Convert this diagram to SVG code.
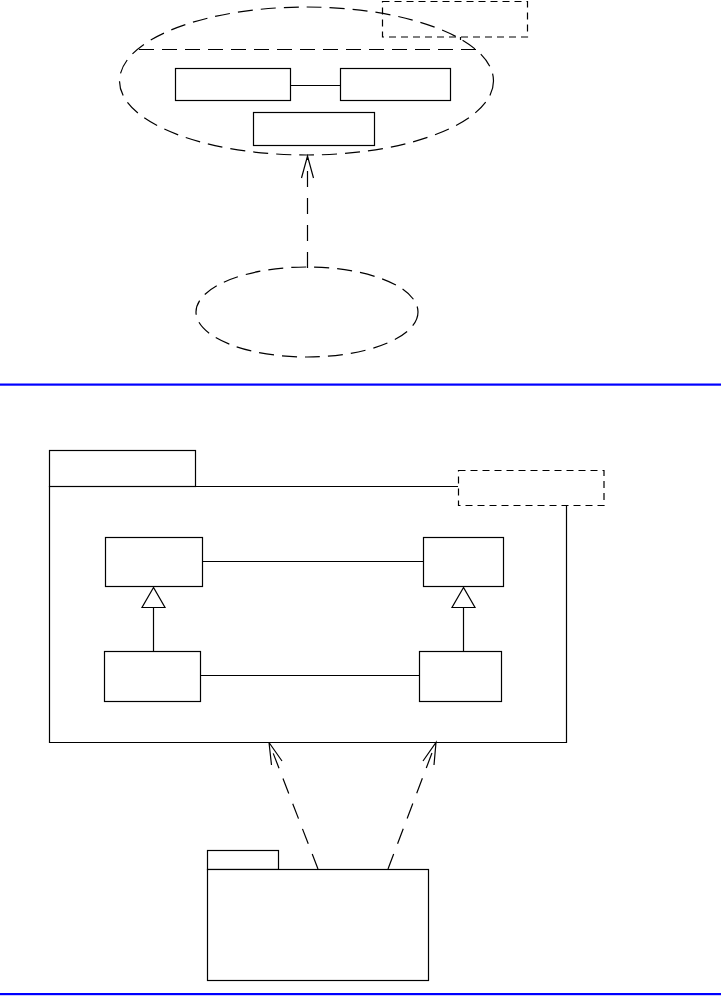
<svg xmlns="http://www.w3.org/2000/svg" width="721" height="996" viewBox="0 0 721 996">
<defs>
<style>
.s{fill:none;stroke:#000;stroke-width:1.2}
.box{fill:#fff;stroke:#000;stroke-width:1.2}
.dl{fill:none;stroke:#000;stroke-width:1.2;stroke-dasharray:15,8}
.dr{fill:none;stroke:#000;stroke-width:1.2;stroke-dasharray:7,5}
.da{fill:none;stroke:#000;stroke-width:1.2;stroke-dasharray:16,11}
.sep{fill:#0000ff}
</style>
</defs>
<rect width="721" height="996" fill="#fff"/>
<g id="top-collaboration">
<ellipse class="dl" cx="306.5" cy="81" rx="187" ry="74"/>
<line class="dl" x1="139" y1="49.5" x2="476" y2="49.5"/>
<line class="s" x1="460.5" y1="37" x2="460.5" y2="40"/>
</g>
<g id="top-note">
<rect class="dr" x="382.5" y="1.5" width="145" height="35.5" fill="#fff"/>
</g>
<g id="top-class-a"><rect class="box" x="175.5" y="68.5" width="115" height="32"/></g>
<g id="top-class-b"><rect class="box" x="340.5" y="68.5" width="110" height="32"/></g>
<g id="top-class-c"><rect class="box" x="253.5" y="112.5" width="121" height="33"/></g>
<g id="top-usecase"><ellipse class="dl" cx="307" cy="312" rx="111" ry="45"/></g>
<g id="bottom-package">
<rect class="box" x="49.5" y="450.5" width="146" height="36"/>
<path class="s" d="M458 486.5 H49.5 V742.5 H566.5 V505"/>
</g>
<g id="bottom-note"><rect class="dr" x="458.5" y="470.5" width="145.5" height="35" fill="#fff"/></g>
<g id="class-ul"><rect class="box" x="105.5" y="537.5" width="97" height="49"/></g>
<g id="class-ur"><rect class="box" x="423.5" y="537.5" width="80" height="49"/></g>
<g id="class-ll"><rect class="box" x="104.5" y="651.5" width="96" height="50"/></g>
<g id="class-lr"><rect class="box" x="419.5" y="651.5" width="82" height="50"/></g>
<g id="small-package">
<rect class="box" x="207.5" y="850.5" width="71" height="19"/>
<rect class="box" x="207.5" y="869.5" width="221" height="111"/>
</g>
<g id="connectors">
<line class="s" x1="290.5" y1="85.5" x2="340.5" y2="85.5"/>
<line class="da" x1="307.5" y1="268" x2="307.5" y2="158"/>
<path class="s" d="M301.5 178 L307.5 156 L313.5 178"/>
<line class="s" x1="202.5" y1="561.5" x2="423.5" y2="561.5"/>
<line class="s" x1="200.5" y1="675.5" x2="419.5" y2="675.5"/>
<line class="s" x1="153.5" y1="607" x2="153.5" y2="651"/>
<polygon class="box" points="153.5,587.5 142,607.5 165,607.5"/>
<line class="s" x1="463.5" y1="607" x2="463.5" y2="651"/>
<polygon class="box" points="463.5,587.5 452,607.5 475,607.5"/>
<line class="da" x1="318" y1="869" x2="270" y2="745"/>
<path class="s" d="M271.5 765 L269 742.5 L282 761"/>
<line class="da" x1="388" y1="869" x2="435" y2="745"/>
<path class="s" d="M423 761 L436 742.5 L434 765"/>
</g>
<rect class="sep" x="0" y="383.5" width="721" height="2.2"/>
<rect class="sep" x="0" y="993" width="721" height="2.2"/>
</svg>
